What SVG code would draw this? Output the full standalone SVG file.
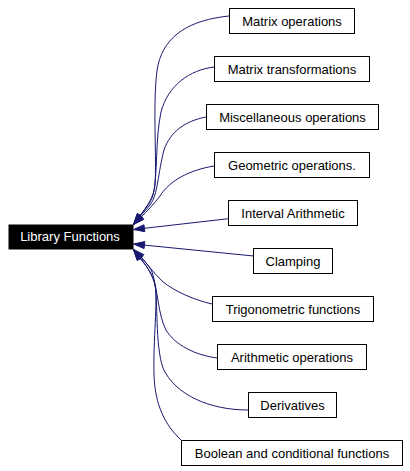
<svg xmlns="http://www.w3.org/2000/svg" width="410" height="471" viewBox="0 0 410 471">
<style>
.node rect{fill:#fff;stroke:#000;stroke-width:1}
.node text{font-family:"Liberation Sans",Arial,sans-serif;font-size:13px;fill:#000;text-anchor:middle}
#n_lib rect{fill:#000}
#n_lib text{fill:#fff}
.edges path{fill:none;stroke:#191970;stroke-width:1}
.edges polygon{fill:#191970;stroke:#191970;stroke-width:1}
</style>
<rect width="410" height="471" fill="#fff"/>
<g class="edges">
<path d="M229,16 C190,20 165,35 158,65 C152,95 157,160 155,185 C154,198 146,207 140.1,215.7"/>
<polygon points="133.5,224.5 137.3,213.6 142.9,217.8"/>
<path d="M214,67 C190,70 168,85 161,112 C155,140 158,175 153,195 C150,205 144,210 140.1,215.7"/>
<polygon points="133.5,224.5 137.3,213.6 142.9,217.8"/>
<path d="M206,117 C185,121 170,132 164,150 C158,172 158,195 150,205 C147,209 143,213 140.5,216"/>
<polygon points="133.5,224.5 137.8,213.8 143.2,218.3"/>
<path d="M214,166 C190,170 170,180 160,196 C154,204 147,211 141.4,216.9"/>
<polygon points="133.5,224.5 139,214.4 143.8,219.4"/>
<path d="M228.5,218.7 L144.4,228.3"/>
<polygon points="133.5,229.5 144,224.8 144.8,231.7"/>
<path d="M253.5,256 L144.4,245.1"/>
<polygon points="133.5,244 144.8,241.6 144.1,248.6"/>
<path d="M212,304 C195,300 175,292 162,281 C154,273 147,264 141.4,257.1"/>
<polygon points="133.5,249.5 143.8,254.6 139,259.6"/>
<path d="M217,358 C195,355 175,345 166,330 C158,315 158,290 152,272 C149,265 144,261 140.5,258"/>
<polygon points="133.5,249.5 143.2,255.7 137.8,260.2"/>
<path d="M248,410 C210,410 175,395 163,368 C155,345 158,300 155,285 C153,275 146,265 140.1,258.3"/>
<polygon points="133.5,249.5 142.9,256.2 137.3,260.4"/>
<path d="M181,440 C165,425 155,405 154,375 C153,340 158,300 155,285 C153,275 146,265 140.1,258.3"/>
<polygon points="133.5,249.5 142.9,256.2 137.3,260.4"/>
</g>
<g id="n_lib" class="node"><rect x="9" y="225" width="124" height="24"/><text x="70" y="241">Library Functions</text></g>
<g id="n_matops" class="node"><rect x="229.5" y="8.5" width="125" height="25"/><text x="292" y="25.5">Matrix operations</text></g>
<g id="n_mattrans" class="node"><rect x="214.5" y="56.5" width="155" height="25"/><text x="292" y="73.5">Matrix transformations</text></g>
<g id="n_misc" class="node"><rect x="206.5" y="104.5" width="172" height="25"/><text x="292.5" y="121.5">Miscellaneous operations</text></g>
<g id="n_geom" class="node"><rect x="214.5" y="152.5" width="155" height="25"/><text x="292" y="169.5">Geometric operations.</text></g>
<g id="n_interval" class="node"><rect x="228.5" y="200.5" width="129" height="25"/><text x="293" y="217.5">Interval Arithmetic</text></g>
<g id="n_clamp" class="node"><rect x="253.5" y="248.5" width="79" height="25"/><text x="293" y="265.5">Clamping</text></g>
<g id="n_trig" class="node"><rect x="212.5" y="296.5" width="161" height="25"/><text x="293" y="313.5">Trigonometric functions</text></g>
<g id="n_arith" class="node"><rect x="217.5" y="344.5" width="149" height="25"/><text x="292" y="361.5">Arithmetic operations</text></g>
<g id="n_deriv" class="node"><rect x="248.5" y="392.5" width="88" height="25"/><text x="292.5" y="409.5">Derivatives</text></g>
<g id="n_bool" class="node"><rect x="181.5" y="440.5" width="221" height="25"/><text x="292" y="457.5">Boolean and conditional functions</text></g>
</svg>
